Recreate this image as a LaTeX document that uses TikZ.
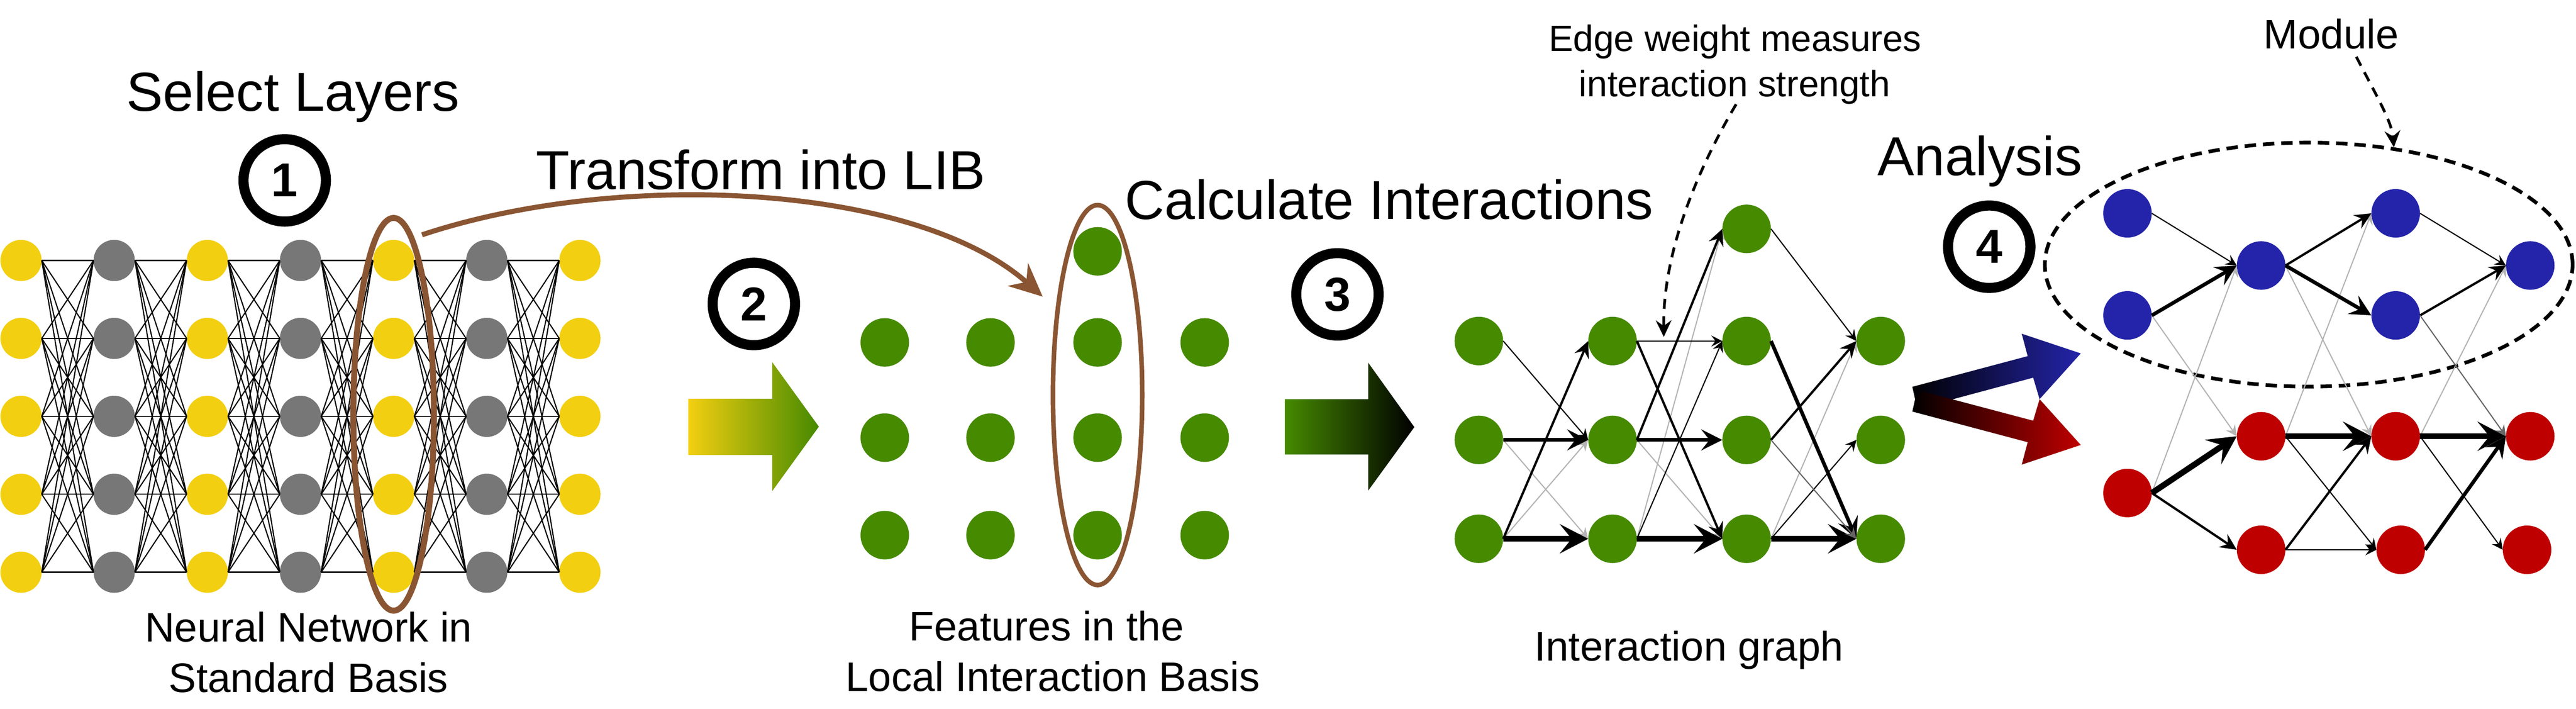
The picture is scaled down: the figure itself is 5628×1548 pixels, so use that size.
\documentclass[tikz,border=0pt]{standalone}
\usepackage{fontspec}
\setmainfont{Liberation Sans}
\usetikzlibrary{arrows.meta,shapes.geometric}
\definecolor{nyellow}{HTML}{F3CF11}
\definecolor{ngray}{HTML}{777777}
\definecolor{ngreen}{HTML}{468A00}
\definecolor{nblue}{HTML}{2424AA}
\definecolor{nred}{HTML}{BF0000}
\definecolor{nbrown}{HTML}{8A5532}
\definecolor{lgray}{HTML}{B4B4B4}
\definecolor{dgray}{HTML}{666666}
\begin{document}
\begin{tikzpicture}[x=1pt,y=-1pt,
  smalldot/.style={circle,inner sep=0pt,minimum size=90pt},
  bigdot/.style={circle,inner sep=0pt,minimum size=106pt},
  numcirc/.style={circle,draw=black,line width=22pt,minimum size=180pt,inner sep=0pt,font=\fontsize{104}{110}\selectfont\bfseries},
  title/.style={anchor=base,inner sep=0pt,font=\fontsize{120}{130}\selectfont},
  caption/.style={anchor=base,inner sep=0pt,font=\fontsize{90}{100}\selectfont},
  note/.style={anchor=base,inner sep=0pt,font=\fontsize{80}{90}\selectfont},
  nnedge/.style={line width=2.5pt},
  e0/.style={draw=lgray,line width=2.5pt,-{Stealth[length=24pt,width=24pt,inset=9pt]}},
  eg/.style={draw=dgray,line width=2.5pt,-{Stealth[length=24pt,width=24pt,inset=9pt]}},
  e1/.style={line width=2.5pt,-{Stealth[length=24pt,width=24pt,inset=9pt]}},
  e2/.style={line width=5pt,-{Stealth[length=36pt,width=34pt,inset=13pt]}},
  e3/.style={line width=8pt,-{Stealth[length=46pt,width=46pt,inset=18pt]}},
  e4/.style={line width=13pt,-{Stealth[length=62pt,width=64pt,inset=26pt]}},
  dasharrow/.style={line width=6pt,dash pattern=on 22pt off 16pt,-{Stealth[length=36pt,width=34pt,inset=12pt]}},
  selring/.style={ellipse,draw=nbrown,inner sep=0pt}
]
\useasboundingbox (0,0) rectangle (5628,1548);

% ---------- titles and captions ----------
\node[title] (tsel) at (640,243) {Select Layers};
\node[title] (ttr) at (1662,414) {Transform into LIB};
\node[title] (tcalc) at (3035,479) {Calculate Interactions};
\node[title] (tana) at (4326,383) {Analysis};
\node[caption] (cap1a) at (674,1402) {Neural Network in};
\node[caption] (cap1b) at (674,1512) {Standard Basis};
\node[caption] (cap2a) at (2286,1400) {Features in the};
\node[caption] (cap2b) at (2300,1510) {Local Interaction Basis};
\node[caption] (cap3) at (3690,1443) {Interaction graph};
\node[note] (ew1) at (3791,112) {Edge weight measures};
\node[note] (ew2) at (3790,211) {interaction strength};
\node[anchor=base,inner sep=0pt,font=\fontsize{90}{100}\selectfont] (modtxt) at (5093,106) {Module};

% ---------- step circles ----------
\node[numcirc] (s1) at (622,394) {1};
\node[numcirc] (s2) at (1647,664) {2};
\node[numcirc] (s3) at (2922,643) {3};
\node[numcirc] (s4) at (4346,539) {4};

% ---------- panel 1: neural network ----------
\foreach \c in {0,2,4,6} \foreach \r in {0,...,4}
  \node[smalldot,fill=nyellow] (n\c-\r) at ({46+203.5*\c},{569+170.25*\r}) {};
\foreach \c in {1,3,5} \foreach \r in {0,...,4}
  \node[smalldot,fill=ngray] (n\c-\r) at ({46+203.5*\c},{569+170.25*\r}) {};
\foreach \c [evaluate=\c as \d using {int(\c+1)}] in {0,...,5}
  \foreach \r in {0,...,4} \foreach \s in {0,...,4}
    \draw[nnedge] (n\c-\r.east) -- (n\d-\s.west);
\node[selring,line width=13pt,minimum width=176pt,minimum height=858pt] (sel1) at (860,905) {};

% ---------- panel 2: features in LIB ----------
\foreach \x [count=\i] in {1933,2164,2398,2632}
  \foreach \y [count=\j] in {748,956,1169}
    \node[bigdot,fill=ngreen] (f\i-\j) at (\x,\y) {};
\node[bigdot,fill=ngreen] (f3-0) at (2398,549) {};
\node[selring,line width=10pt,minimum width=195pt,minimum height=830pt] (sel2) at (2398,863) {};

\coordinate (tstart) at (922,513);
\coordinate (tend) at (2278,648);
\draw[nbrown,line width=11pt,-{Stealth[length=72pt,width=66pt,inset=24pt]}]
  (tstart) .. controls (1350,370) and (2000,400) .. (tend);

% ---------- block arrows ----------
\shade[left color=nyellow,right color=ngreen]
  (1504,871) -- (1687,871) -- (1687,791) -- (1789,932) -- (1687,1073) -- (1687,994) -- (1504,994) -- cycle;
\shade[left color=ngreen,right color=black]
  (2807,872) -- (2989,872) -- (2989,792) -- (3090,933) -- (2989,1072) -- (2989,993) -- (2807,993) -- cycle;
\shade[left color=black,right color=nblue]
  (4178,845) -- (4430,778) -- (4417,729) -- (4546,772) -- (4456,872) -- (4442,825) -- (4200,890) -- (4184,872) -- cycle;
\shade[left color=black,right color=nred]
  (4178,899) -- (4430,966) -- (4417,1015) -- (4546,972) -- (4456,872) -- (4442,919) -- (4200,855) -- (4184,872) -- cycle;

% ---------- panel 3: interaction graph ----------
\foreach \y [count=\j] in {745,961,1177} {
  \node[bigdot,fill=ngreen] (ia\j) at (3231,\y) {};
  \node[bigdot,fill=ngreen] (ib\j) at (3523,\y) {};
  \node[bigdot,fill=ngreen] (ic\j) at (3816,\y) {};
  \node[bigdot,fill=ngreen] (id\j) at (4109,\y) {};
}
\node[bigdot,fill=ngreen] (ic0) at (3816,500) {};

\draw[e0] (ia2.east) -- (ib3.west);
\draw[e0] (ia3.east) -- (ib2.west);
\draw[e0] (ib2.east) -- (ic3.west);
\draw[e0] (ib3.east) -- (ic0.west);
\draw[e0] (ic3.east) -- (id1.west);
\draw[e1] (ia1.east) -- (ib2.west);
\draw[e1] (ib1.east) -- (ic1.west);
\draw[e1] (ib3.east) -- (ic1.west);
\draw[e1] (ic0.east) -- (id1.west);
\draw[e1] (ic3.east) -- (id2.west);
\draw[e2] (ia3.east) -- (ib1.west);
\draw[e2] (ib2.east) -- (ic0.west);
\draw[e2] (ib1.east) -- (ic3.west);
\draw[e2] (ic2.east) -- (id1.west);
\draw[e3] (ia2.east) -- (ib2.west);
\draw[e3] (ib2.east) -- (ic2.west);
\draw[e3] (ic1.east) -- (id3.west);
\draw[e4] (ia3.east) -- (ib3.west);
\draw[e4] (ib3.east) -- (ic3.west);
\draw[e4] (ic3.east) -- (id3.west);
\draw[eg] (ic2.east) -- (id3.west);

\coordinate (ewtip) at (3635,736);
\draw[dasharrow] ([xshift=3pt]ew2.south) .. controls (3700,385) and (3633,560) .. (ewtip);

% ---------- panel 4: analysis ----------
\node[ellipse,draw=black,line width=8pt,dash pattern=on 25pt off 15pt,minimum width=1153pt,minimum height=533pt,inner sep=0pt] (module) at (5044,578) {};
\node[bigdot,fill=nblue] (b1) at (4648,466) {};
\node[bigdot,fill=nblue] (b2) at (4648,689) {};
\node[bigdot,fill=nblue] (b3) at (4940,580) {};
\node[bigdot,fill=nblue] (b4) at (5234,466) {};
\node[bigdot,fill=nblue] (b5) at (5234,689) {};
\node[bigdot,fill=nblue] (b6) at (5528,580) {};
\node[bigdot,fill=nred] (r1) at (4648,1077) {};
\node[bigdot,fill=nred] (r2) at (4940,953) {};
\node[bigdot,fill=nred] (r3) at (4940,1201) {};
\node[bigdot,fill=nred] (r4) at (5234,953) {};
\node[bigdot,fill=nred] (r5) at (5245,1201) {};
\node[bigdot,fill=nred] (r6) at (5528,953) {};
\node[bigdot,fill=nred] (r7) at (5521,1201) {};

\draw[e0] (b2.east) -- (r2.west);
\draw[e0] (r1.east) -- (b3.west);
\draw[e0] (b3.east) -- (r4.west);
\draw[e0] (r2.east) -- (b4.west);
\draw[e0] (r4.east) -- (b6.west);
\draw[e1] (b1.east) -- (b3.west);
\draw[e1] (b4.east) -- (b6.west);
\draw[e1] (r2.east) -- (r5.west);
\draw[e1] (r3.east) -- (r5.west);
\draw[e1] (r4.east) -- (r7.west);
\draw[e2] (b3.east) -- (b4.west);
\draw[e2] (b5.east) -- (b6.west);
\draw[e2] (r1.east) -- (r3.west);
\draw[e2] (r3.east) -- (r4.west);
\draw[e3] (b2.east) -- (b3.west);
\draw[e3] (b3.east) -- (b5.west);
\draw[e3] (r5.east) -- (r6.west);
\draw[e4] (r1.east) -- (r2.west);
\draw[e4] (r2.east) -- (r4.west);
\draw[e4] (r4.east) -- (r6.west);
\draw[eg] (b5.east) -- (r6.west);

\draw[dasharrow] ([xshift=55pt,yshift=-17pt]modtxt.south) .. controls (5195,215) and (5225,265) .. (module.54);
\end{tikzpicture}
\end{document}
